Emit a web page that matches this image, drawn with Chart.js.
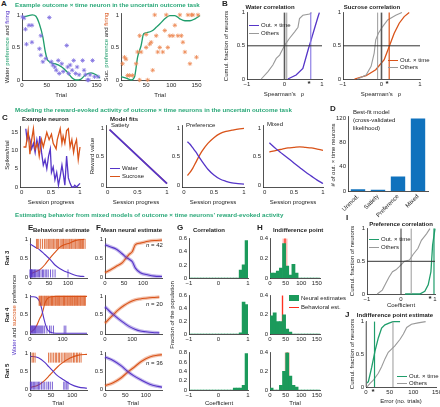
<!DOCTYPE html>
<html><head><meta charset="utf-8">
<script src="https://cdn.jsdelivr.net/npm/chart.js@4/dist/chart.umd.min.js"></script>
<style>
body{margin:0;background:#fff;}
#fig{position:relative;width:440px;height:407px;overflow:hidden;font-family:'Liberation Sans',Arial,sans-serif;color:#222;}
.t{position:absolute;white-space:nowrap;font-size:6px;line-height:1;}
.c{transform:translateX(-50%);}
.b{font-weight:bold;}
.h{font-weight:bold;color:#2aa878;font-size:6.2px;}
.L{font-weight:bold;font-size:8px;}
.v{position:absolute;white-space:nowrap;font-size:6px;line-height:1;transform:translate(-50%,-50%) rotate(-90deg);}
.k{display:inline-block;width:10px;vertical-align:middle;margin-right:2px;}
</style></head><body><div id="fig"></div>
<script>
// colours
const PUR = '#5535c8', ORA = '#d95319', GRN = '#1f9d6b', GRY = '#9a9a9a', DGRY = '#5a5a5a', BLU = '#1072bd', RED = '#ff2b1c', HGRN = '#1b9a5b';

// A: example neuron
const aWatT = [0,10,21,28,35,42,47,52,66,80,90,101,108,118,128,139,149,157];
const aWatPref = [0.96,0.98,1.0,0.98,0.86,0.66,0.43,0.30,0.25,0.20,0.13,0.03,0,0.01,0.08,0.11,0.08,0.03];
const aWatFireT = [1,4,7,9,14,20,20,38,35,38,42,48,55,59,62,66,69,73,75,80,83,90,92,94,97,101,104,108,111,115,122,125,128,132,134,137,142,146,153];
const aWatFire = [0.97,0.95,0.78,0.55,0.84,0.84,0.58,0.68,0.48,0.38,0.28,0.33,0.96,0.28,0.23,0.2,0.15,0.3,0.1,0.25,0.13,0.53,0.2,0.1,0.23,0.15,0.3,0.1,0.2,0.08,0.3,0.15,0.08,0,0,0.08,0.3,0.05,0.05];
const aSucT = [0,10,20,27,33,40,45,53,63,70,77,87,97,107,117,127,137,147,157];
const aSucPref = [0.05,0.03,0,0.05,0.35,0.53,0.71,0.73,0.76,0.81,0.86,0.94,0.99,0.99,0.94,0.91,0.91,0.94,0.99];
const aSucFireT = [3,7,10,13,17,23,30,33,37,40,37,50,53,50,57,60,63,67,70,73,77,83,87,90,93,97,103,107,113,117,120,123,127,133,137,140,143,150,153];
const aSucFire = [0.25,0.35,0.32,0.07,0.07,0.07,0.25,0.43,0,0.43,0.68,0.5,0,0.7,0.55,0.58,0.15,1,0.68,0.43,0.5,0.43,0.76,1,0.5,0.68,0.68,0.84,0.68,1,0.68,0.58,0.43,1,0.25,1,1,0.35,1];

// B: cumulative correlations
const bWatOthX = [-0.62,-0.44,-0.31,-0.22,-0.13,-0.04,0.03,0.13,0.27,0.36,0.40,0.49,0.67,0.72];
const bWatOthY = [0,0.11,0.21,0.31,0.36,0.46,0.53,0.61,0.71,0.78,0.91,0.96,0.98,1];
const bWatOutX = [0.09,0.31,0.49,0.63,0.71,0.80,0.89,0.93];
const bWatOutY = [0,0.06,0.16,0.44,0.59,0.76,0.93,1];
const bWatMed = [0.06, 0.7];
const bSucOthX = [-0.62,-0.4,-0.27,-0.19,-0.15,-0.08,0.03,0.16,0.37,0.53];
const bSucOthY = [0,0.06,0.19,0.39,0.59,0.69,0.79,0.89,0.96,1];
const bSucOutX = [-0.7,-0.4,-0.15,0.07,0.2,0.33,0.46,0.59,0.72];
const bSucOutY = [0,0.05,0.14,0.29,0.49,0.69,0.84,0.94,1];
const bSucMed = [-0.1, 0.2];

// C: example neuron and model fits
const cSucX = [0.03,0.07,0.11,0.14,0.17,0.2,0.23,0.27,0.3,0.34,0.37,0.43,0.47,0.51,0.54,0.59,0.61,0.66,0.69,0.71,0.74,0.77,0.8,0.83,0.86,0.89,0.91,0.94,0.97,1];
const cSucY = [11,11,15.5,9,13,16,10.5,12,8.5,13,11,15,13,14.5,12,10.5,13,16,12,14,12,15.5,16,11,13,9.5,11.5,13,7.5,11];
const cWatX = [0.07,0.09,0.11,0.14,0.17,0.2,0.23,0.26,0.29,0.31,0.34,0.37,0.4,0.43,0.46,0.49,0.51,0.54,0.57,0.6,0.63,0.66,0.69,0.71,0.74,0.77,0.8,0.83,0.86,0.89,0.91,0.94,0.97,1];
const cWatY = [16,13,14.5,13,10.5,12,9.5,13,10.5,14,9.5,6,7.5,5,8.5,10.5,4,5.5,2,4,0.5,3,6,4,0.5,8.5,2.5,1,0,0,0.5,0,0.5,1];
const cSatX = [0.03,1];
const cSatWat = [0.97,0.03];
const cSatSuc = [0.97,0.03];
const cPrefX = [0.06,0.1,0.15,0.2,0.25,0.3,0.4,0.5,0.6,0.7,0.8,0.9,1.0];
const cPrefWat = [0.76,0.72,0.65,0.58,0.5,0.42,0.28,0.18,0.11,0.07,0.04,0.03,0.02];
const cPrefSuc = [0.17,0.22,0.3,0.4,0.5,0.59,0.73,0.83,0.9,0.94,0.96,0.98,0.99];
const cMixX = [0.08,0.2,0.3,0.4,0.5,0.6,0.7,0.8,0.9,1.0];
const cMixWat = [0.74,0.63,0.55,0.47,0.39,0.31,0.23,0.16,0.09,0.03];
const cMixSuc = [0.58,0.61,0.63,0.65,0.66,0.67,0.66,0.65,0.63,0.61];

// D: best-fit model counts
const dModels = ['Unmod.','Satiety','Preference','Mixed'];
const dCounts = [3, 2, 24, 120];

// E: behavioural estimate per rat
const eT = [[0,13,26,39,52,65,78,91,104,117,130,143],[0,10,20,30,36,40,44,48,55,65,80,175],[0,20,35,45,55,65,75,95,115,135]];
const eWat = [[0.88,0.8,0.72,0.6,0.48,0.33,0.23,0.16,0.11,0.06,0.03,0.02],[0.99,0.99,0.97,0.85,0.66,0.5,0.35,0.22,0.08,0.02,0,0],[0.92,0.88,0.75,0.62,0.5,0.38,0.3,0.15,0.06,0.03]];
const eSuc = [[0.08,0.14,0.2,0.33,0.5,0.65,0.79,0.86,0.9,0.96,0.99,1],[0.03,0.08,0.2,0.4,0.5,0.62,0.76,0.86,0.95,0.99,1,1],[0.05,0.12,0.25,0.37,0.5,0.62,0.72,0.87,0.95,0.97]];
const eSucTrials = [
  [17,20,23,28,33,38,42,45,49,52,55,58,61,63,66,70,72,75,79,82,85,88,90,94,97,100,103,105,108,110,113,116,119,121,124,127,130,133,136,138,141,145],
  [28,30,33,35,37,40,43,45,48,51,53,56,58,61,64,66,69,71,74,77,79,82,85,87,90,92,95,98,101,103,106,108,111,114,116,119,122,124,127,130,132,135,137,140,143,146,148,151,154,156,159,162,165,167,170],
  [5,8,12,44,48,52,56,60,63,67,70,74,78,82,85,88,92,95,99,103,106,110,113,117,121]
];
const eWatTrials = [
  [0,1,2,3,4,5,6,8,10,12,14,16,19,22,25,29,33,36,40,44,48,54,60,66,100],
  [2,4,6,8,10,12,14,17,19,22,25,28,31,34,37,40,45,52,60,65,72,105,110],
  [1,3,5,8,11,14,17,20,23,27,31,35,40,44,48,53,80,83,87,90]
];
const eMax = [150, 175, 135];
const eTicks = [[0,50,100],[0,100],[0,50,100]];

// F: mean neural estimate per rat
const fT = [[0,15,30,45,55,63,72,80,93,114,130,150],[0,15,30,50,70,90,110,130,150,175,200],[0,20,40,55,70,90,110,130,140]];
const fWat = [[0.86,0.8,0.74,0.62,0.53,0.48,0.41,0.24,0.12,0.06,0.03,0.02],[0.72,0.61,0.51,0.39,0.28,0.18,0.11,0.06,0.04,0.02,0.01],[0.9,0.8,0.65,0.5,0.38,0.25,0.14,0.08,0.06]];
const fSuc = [[0.12,0.2,0.29,0.38,0.5,0.6,0.68,0.86,0.9,0.95,0.97,0.98],[0.27,0.39,0.5,0.64,0.75,0.84,0.9,0.93,0.95,0.97,0.98],[0.1,0.18,0.32,0.47,0.6,0.78,0.9,0.95,0.96]];
const fN = [42, 20, 36];
const fMax = [150, 210, 140];
const fTicks = [[0,50,100],[0,100],[0,50,100]];

// G: correlation histograms
const gBins = [-0.95,-0.85,-0.75,-0.65,-0.55,-0.45,-0.35,-0.25,-0.15,-0.05,0.05,0.15,0.25,0.35,0.45,0.55,0.65,0.75,0.85,0.95];
const gFrac = [
  [0,0,0,0,0,0,0,0,0,0,0,0,0,0,0,0,0,0.12,0.2,0.57],
  [0,0,0,0,0,0,0,0,0,0,0,0,0,0,0,0,0,0.02,0.5,0.46],
  [0,0,0,0,0,0,0,0,0,0,0,0,0,0,0,0.04,0.04,0.04,0.1,0.78]
];
const gMax = [0.6, 0.6, 0.8];

// H: indifference point histograms
const hBins = [5,15,25,35,45,55,65,75,85,95,105,115,125,135,145,155];
const hFrac = [
  [0.05,0.05,0.07,0.1,0.35,0.12,0.03,0.14,0.05,0,0,0,0,0,0,0],
  [0.19,0.22,0.13,0.13,0.2,0.05,0.02,0,0,0,0,0,0,0,0,0],
  [0.02,0,0,0.05,0.2,0.4,0.15,0.05,0.03,0,0,0,0,0,0,0]
];
const hBehav = [48, 40, 55];

// I: preference correlation
const iOthX = [-0.7,-0.55,-0.45,-0.35,-0.25,-0.15,-0.05,0.1,0.25,0.35,0.5,0.6,0.75,0.85];
const iOthY = [0,0.06,0.16,0.26,0.34,0.37,0.42,0.5,0.52,0.6,0.7,0.82,0.92,1];
const iOutX = [0.12,0.55,0.7,0.8,0.88,0.93,1];
const iOutY = [0,0,0.04,0.14,0.34,0.75,1];
const iMed = [0.3, 0.97];

// J: indifference point error
const jOutX = [2,5,12,19,26,33,40,50,57,72];
const jOutY = [0.06,0.08,0.3,0.55,0.75,0.9,0.95,0.98,1,1];
const jOthX = [2,9,16,26,33,40,47,54,61,72,79,86,96,110,126];
const jOthY = [0,0.06,0.11,0.21,0.31,0.43,0.53,0.58,0.63,0.73,0.81,0.91,0.96,0.98,1];
const jMed = [18, 57];

Chart.defaults.font.family = "'Liberation Sans', Arial, sans-serif";
Chart.defaults.font.size = 6;
Chart.defaults.color = '#262626';

const fig = document.getElementById('fig');
const ML = 24, MT = 5, MR = 7, MB = 10;

function txt(x, y, s, cls, css) {
  const d = document.createElement('div');
  d.className = 't ' + (cls || '');
  d.style.left = x + 'px'; d.style.top = y + 'px';
  if (css) d.style.cssText += css;
  d.innerHTML = s; fig.appendChild(d); return d;
}
function vtxt(cx, cy, s, css) {
  const d = document.createElement('div');
  d.className = 'v';
  d.style.left = cx + 'px'; d.style.top = cy + 'px';
  if (css) d.style.cssText += css;
  d.innerHTML = s; fig.appendChild(d); return d;
}
const key = (col, h) => `<span class="k" style="border-top:${h || 1.3}px solid ${col}"></span>`;
const fmt = v => (v < 0 ? '\u2212' + (-v) : String(v));

// tick marks off (drawTicks false), axis box sizes fixed so plot areas land where the figure has them
function ax(min, max, ticks, isX, mb) {
  return {
    type: 'linear', min, max, offset: false,
    grid: {display: false, drawTicks: false},
    border: {display: true, color: '#262626', width: 0.8},
    ticks: {padding: 2, maxRotation: 0, autoSkip: false, callback: fmt},
    afterBuildTicks: s => { s.ticks = ticks.map(v => ({value: v})); },
    afterFit: s => { if (isX) s.height = mb || MB; else s.width = ML; }
  };
}
function plot(Lx, Ty, W, H, type, datasets, xs, ys, o) {
  o = o || {};
  const mb = o.mb || MB;
  const c = document.createElement('canvas');
  const cw = W + ML + MR, ch = H + MT + mb;
  c.width = cw; c.height = ch;
  c.style.cssText = `position:absolute;left:${Lx - ML}px;top:${Ty - MT}px;width:${cw}px;height:${ch}px;`;
  fig.appendChild(c);
  return new Chart(c, {type, data: {labels: o.labels, datasets}, options: {
    responsive: false, animation: false, devicePixelRatio: 1,
    layout: {padding: {top: MT, right: MR, left: 0, bottom: 0}, autoPadding: false},
    plugins: {legend: {display: false}, tooltip: {enabled: false}},
    scales: {x: xs, y: ys}
  }});
}
const L = (xs, ys, col, w, ex) => Object.assign({
  data: xs.map((x, i) => ({x, y: ys[i]})), showLine: true, borderColor: col,
  borderWidth: w || 1.2, pointRadius: 0, tension: 0, fill: false, clip: false
}, ex || {});
const S = {tension: 0.4, cubicInterpolationMode: 'monotone'};
const VL = (v, y0, y1, col, w) => L([v, v], [y0, y1], col, w);
const HL = (v, x0, x1, col, w) => L([x0, x1], [v, v], col, w);
const PTS = (xs, ys, col, style, r) => ({
  data: xs.map((x, i) => ({x, y: ys[i]})), showLine: false, pointStyle: style,
  pointRadius: r, pointBorderColor: col, pointBackgroundColor: col, pointBorderWidth: 0.8, clip: false
});

// ---------- A ----------
plot(22, 13, 78, 67, 'scatter', [
  PTS(aWatFireT, aWatFire, '#7f6fe0', 'star', 2.2),
  L(aWatT, aWatPref, GRN, 1.3, S)
], ax(0, 157, [0,50,100,150], true), ax(0, 1.02, [0,0.5,1], false));
plot(121, 13, 79, 67, 'scatter', [
  PTS(aSucFireT, aSucFire, '#ee8a55', 'star', 2.2),
  L(aSucT, aSucPref, GRN, 1.3, S)
], ax(0, 157, [0,50,100,150], true), ax(0, 1.02, [0,0.5,1], false));

// ---------- B ----------
plot(247, 12, 75, 67, 'scatter', [
  HL(0.5, -1, 1, '#333', 1),
  VL(0, 0, 1, DGRY, 1.6), VL(bWatMed[0], 0, 1, GRY, 1), VL(bWatMed[1], 0, 1, '#8f80e6', 1.2),
  L(bWatOthX, bWatOthY, GRY, 1.1), L(bWatOutX, bWatOutY, PUR, 1.3)
], ax(-1, 1, [-1,0,1], true), ax(0, 1, [0,0.5,1], false));
plot(343, 12, 77, 67, 'scatter', [
  HL(0.5, -1, 1, '#333', 1),
  VL(bSucMed[0], 0, 1, GRY, 1), VL(0, 0, 1, DGRY, 1.6), VL(bSucMed[1], 0, 1, ORA, 1.2),
  L(bSucOthX, bSucOthY, GRY, 1.1), L(bSucOutX, bSucOutY, ORA, 1.3)
], ax(-1, 1, [-1,0,1], true), ax(0, 1, [0,0.5,1], false));

// ---------- C ----------
plot(20, 126, 60, 61, 'scatter', [
  L(cSucX, cSucY, ORA, 1.3), L(cWatX, cWatY, PUR, 1.3)
], ax(-0.03, 1, [0,0.5,1], true), ax(0, 16.6, [0,5,10,15], false));
plot(106, 125, 61, 62, 'scatter', [
  L(cSatX, cSatWat, PUR, 1.8), L(cSatX, cSatSuc, ORA, 1.3)
], ax(-0.03, 1, [0,0.5,1], true), ax(-0.03, 1.04, [0,0.5,1], false));
plot(182, 125, 62, 62, 'scatter', [
  L(cPrefX, cPrefWat, PUR, 1.3, S), L(cPrefX, cPrefSuc, ORA, 1.3, S)
], ax(-0.03, 1, [0,0.5,1], true), ax(-0.03, 1.04, [0,0.5,1], false));
plot(263, 125, 60, 62, 'scatter', [
  L(cMixX, cMixWat, PUR, 1.3, S), L(cMixX, cMixSuc, ORA, 1.3, S)
], ax(-0.03, 1, [0,0.5,1], true), ax(-0.03, 1.04, [0,0.5,1], false));

// ---------- D ----------
plot(348, 116, 80, 75, 'bar', [
  {data: dCounts, backgroundColor: BLU, barPercentage: 0.72, categoryPercentage: 1}
], {
  type: 'category', offset: true, grid: {display: false, drawTicks: false},
  border: {display: true, color: '#262626', width: 0.8},
  ticks: {minRotation: 45, maxRotation: 45, padding: 2, autoSkip: false},
  afterFit: s => { s.height = 30; }
}, ax(0, 123, [0,40,80,120], false), {labels: dModels, mb: 30});

// ---------- E, F, G, H rows ----------
const rowT = [238, 295, 352], rowH = [40, 39, 38];
for (let r = 0; r < 3; r++) {
  const T = rowT[r], H = rowH[r];
  plot(30, T, 57, H, 'scatter', [
    PTS(eSucTrials[r], eSucTrials[r].map(() => 0.88), ORA, 'line', 5),
    PTS(eWatTrials[r], eWatTrials[r].map(() => 0.1), PUR, 'line', 4),
    L(eT[r], eWat[r], PUR, 1.1, S), L(eT[r], eSuc[r], ORA, 1.1, S)
  ].map(d => (d.pointStyle === 'line' ? Object.assign(d, {rotation: 90}) : d)),
  ax(0, eMax[r], eTicks[r], true), ax(-0.02, 1.02, [0,0.5,1], false));

  plot(105, T, 57, H, 'scatter', [
    L(fT[r], fWat[r], 'rgba(85,53,200,0.35)', 3.5, S), L(fT[r], fSuc[r], 'rgba(217,83,25,0.35)', 3.5, S),
    L(fT[r], fWat[r], PUR, 1.1, S), L(fT[r], fSuc[r], ORA, 1.1, S)
  ], ax(0, fMax[r], fTicks[r], true), ax(-0.02, 1.02, [0,0.5,1], false));

  const gt = gMax[r] > 0.7 ? [0,0.2,0.4,0.6,0.8] : [0,0.2,0.4,0.6];
  plot(189, T, 59, H, 'bar', [
    {data: gBins.map((x, i) => ({x, y: gFrac[r][i]})), backgroundColor: HGRN, barPercentage: 1, categoryPercentage: 1}
  ], ax(-1, 1, [-1,0,1], true), ax(0, gMax[r], gt, false));

  plot(270, T, 50, H, 'bar', [
    {data: hBins.map((x, i) => ({x, y: hFrac[r][i]})), backgroundColor: HGRN, barPercentage: 1, categoryPercentage: 1},
    Object.assign(VL(hBehav[r], 0, 0.4, 'rgba(255,60,40,0.35)', r === 1 ? 0 : 5), {type: 'scatter'}),
    Object.assign(VL(hBehav[r], 0, 0.4, RED, 1.3), {type: 'scatter'})
  ], ax(0, 160, [0,50,100,150], true), ax(0, 0.4, [0,0.2,0.4], false));
}

// ---------- I ----------
plot(367, 228, 68, 66, 'scatter', [
  HL(0.5, -1, 1, '#333', 1),
  VL(0, 0, 1, '#333', 1), VL(iMed[0], 0, 1, GRY, 1), VL(iMed[1], 0, 1, GRN, 1.2),
  L(iOthX, iOthY, GRY, 1.1), L(iOutX, iOutY, GRN, 1.3)
], ax(-1, 1, [-1,0,1], true), ax(0, 1, [0,0.5,1], false));

// ---------- J ----------
plot(366, 321, 71, 66, 'scatter', [
  VL(0, 0, 1, GRY, 1), VL(jMed[0], 0, 1, GRN, 1.2), VL(jMed[1], 0, 1, GRY, 1),
  L(jOthX, jOthY, GRY, 1.1), L(jOutX, jOutY, GRN, 1.3)
], ax(0, 150, [0,50,100,150], true), ax(0, 1, [0,0.5,1], false));

// ---------- text ----------
const G = s => `<span style="color:${GRN}">${s}</span>`;
const P = s => `<span style="color:${PUR}">${s}</span>`;
const O = s => `<span style="color:${ORA}">${s}</span>`;

txt(1, 0, 'A', 'L'); txt(222, 0, 'B', 'L'); txt(2, 114, 'C', 'L'); txt(330, 105, 'D', 'L');
txt(28, 224, 'E', 'L'); txt(96, 224, 'F', 'L'); txt(177, 224, 'G', 'L'); txt(257, 224, 'H', 'L');
txt(346, 214, 'I', 'L'); txt(345, 311, 'J', 'L');

txt(15, 2, 'Example outcome × time neuron in the uncertain outcome task', 'h');
txt(15, 107, 'Modeling the reward-evoked activity of outcome × time neurons in the uncertain outcome task', 'h');
txt(15, 212, 'Estimating behavior from mixed models of outcome × time neurons’ reward-evoked activity', 'h');

// A
vtxt(7, 47, 'Water ' + G('preference') + ' and ' + P('firing'));
vtxt(106, 47, 'Suc. ' + G('preference') + ' and ' + O('firing'));
txt(61, 92, 'Trial', 'c'); txt(160, 92, 'Trial', 'c');

// B
txt(270, 4, 'Water correlation', 'b c'); txt(372, 4, 'Sucrose correlation', 'b c');
vtxt(226, 46, 'Cumul. fraction of neurons');
txt(284, 91, 'Spearman’s&nbsp;&nbsp;&nbsp;ρ', 'c'); txt(381, 91, 'Spearman’s&nbsp;&nbsp;&nbsp;ρ', 'c');
txt(249, 22, key(PUR) + 'Out. × time'); txt(249, 30, key(GRY) + 'Others');
txt(388, 57, key(ORA) + 'Out. × time'); txt(388, 64, key(GRY) + 'Others');
txt(309, 80, '*', 'b c', 'font-size:8px'); txt(387, 80, '*', 'b c', 'font-size:8px');

// C
txt(22, 116, 'Example neuron', 'b'); txt(110, 116, 'Model fits', 'b');
txt(111, 122, 'Satiety'); txt(186, 122, 'Preference'); txt(267, 121, 'Mixed');
vtxt(7, 155, 'Spikes/trial'); vtxt(92, 156, 'Reward value');
txt(51, 199, 'Session progress', 'c'); txt(136, 199, 'Session progress', 'c');
txt(213, 199, 'Session progress', 'c'); txt(293, 199, 'Session progress', 'c');
txt(110, 165, key(PUR) + 'Water'); txt(110, 173, key(ORA) + 'Sucrose');

// D
txt(353, 109, 'Best-fit model'); txt(353, 117, '(cross-validated'); txt(353, 125, 'likelihood)');
vtxt(333, 155, '# of out. × time neurons');

// E-H
txt(33, 227, 'Behavioral estimate', 'b'); txt(101, 227, 'Mean neural estimate', 'b');
txt(193, 227, 'Correlation', 'b'); txt(273, 227, 'Indifference point', 'b');
vtxt(7, 258, 'Rat 3', 'font-weight:bold'); vtxt(7, 315, 'Rat 4', 'font-weight:bold'); vtxt(7, 371, 'Rat 5', 'font-weight:bold');
vtxt(14, 315, P('Water') + ' and ' + O('sucrose') + ' preference');
vtxt(172, 315, 'Fraction of the population');
txt(146, 242, '<i>n</i> = ' + fN[0]); txt(146, 301, '<i>n</i> = ' + fN[1]); txt(146, 360, '<i>n</i> = ' + fN[2]);
txt(58, 400, 'Trial', 'c'); txt(133, 400, 'Trial', 'c'); txt(219, 400, 'Coefficient', 'c'); txt(295, 400, 'Trial', 'c');
txt(289, 295, `<span class="k" style="height:6px;background:${HGRN}"></span>Neural estimates`);
txt(289, 304, key(RED) + 'Behavioral est.');

// I, J
txt(401, 221, 'Preference correlation', 'b c');
vtxt(352, 261, 'Cumul. fraction of neurons');
txt(369, 236, key(GRN) + 'Out. × time'); txt(369, 244, key(GRY) + 'Others');
txt(430, 295, '*', 'b c', 'font-size:8px');
txt(401, 302, 'Coefficient', 'c');
txt(395, 312, 'Indifference point estimate', 'b c');
vtxt(352, 354, 'Cumul. fraction of neurons');
txt(397, 373, key(GRN) + 'Out. × time'); txt(397, 380, key(GRY) + 'Others');
txt(373, 388, '*', 'b c', 'font-size:8px');
txt(401, 398, 'Error (no. trials)', 'c');
</script></body></html>
